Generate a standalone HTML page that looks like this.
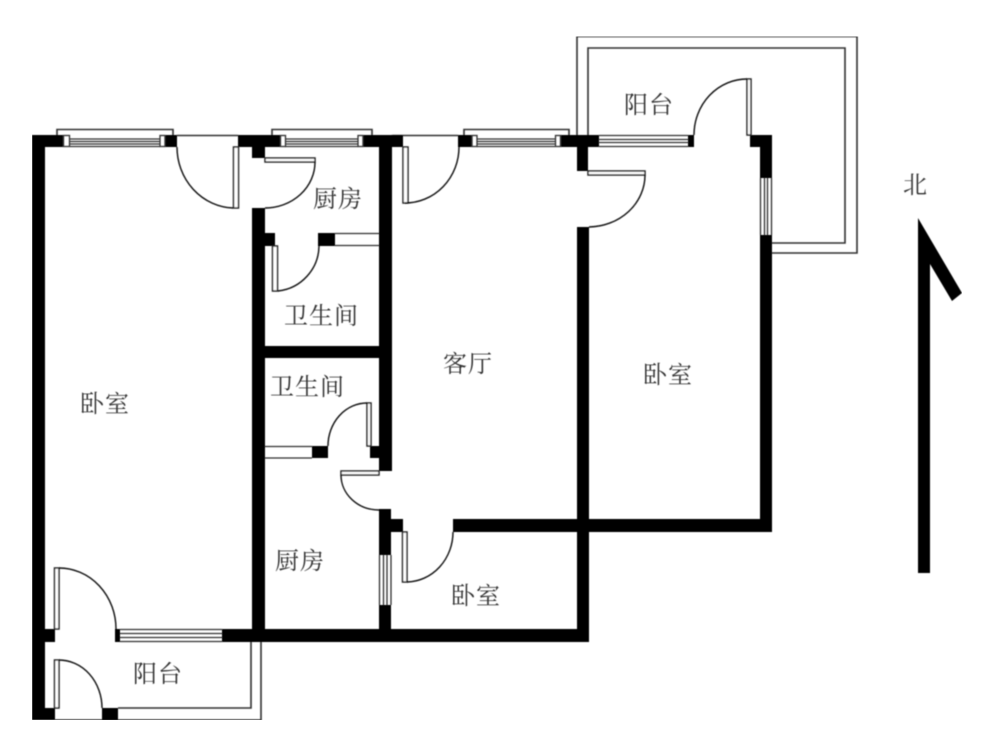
<!DOCTYPE html>
<html lang="zh">
<head>
<meta charset="utf-8">
<style>
html,body{margin:0;padding:0;background:#fff;width:1000px;height:750px;overflow:hidden}
svg{display:block}
text{font-family:"Liberation Serif","Noto Serif CJK SC",serif;font-size:24px;fill:#333;letter-spacing:1px}
</style>
</head>
<body>
<svg width="1000" height="750" viewBox="0 0 1000 750" xmlns="http://www.w3.org/2000/svg">
<defs>
<filter id="soft" x="0" y="0" width="100%" height="100%"><feGaussianBlur stdDeviation="0.45"/></filter>
</defs>
<rect width="1000" height="750" fill="#fff"/>
<g filter="url(#soft)">

<!-- balcony outlines -->
<g fill="none" stroke="#333" stroke-width="1.6">
<path d="M577 135V36.500H857V253H772"/>
<path d="M588 135V48H845V243H772"/>
<path d="M261 642V720H55"/>
<path d="M251 642V708H118"/>
<!-- window top boxes -->
<path d="M57 135V129.500H173V135"/>
<path d="M272 135V129.500H372V135"/>
<path d="M464 135V129.500H569V135"/>
<!-- door lintel lines -->
<path d="M177 135.500H238"/>
<path d="M392 135.500H458"/>
</g>

<!-- black walls -->
<g fill="#000">
<rect x="32" y="135" width="13" height="585"/>
<rect x="32" y="135" width="31" height="12"/>
<rect x="165" y="135" width="12" height="12"/>
<rect x="238" y="135" width="42" height="12"/>
<rect x="252" y="135" width="13" height="23"/>
<rect x="252" y="208" width="13" height="434"/>
<rect x="363" y="135" width="29" height="12"/>
<rect x="379" y="135" width="13" height="336"/>
<rect x="392" y="135" width="11" height="12"/>
<rect x="458" y="135" width="14" height="12"/>
<rect x="561" y="135" width="38" height="12"/>
<rect x="577" y="135" width="11" height="36"/>
<rect x="577" y="227" width="12" height="415"/>
<rect x="688" y="135" width="6" height="12"/>
<rect x="750" y="135" width="22" height="12"/>
<rect x="760" y="135" width="12" height="43"/>
<rect x="760" y="235" width="12" height="297"/>
<rect x="453" y="519" width="319" height="13"/>
<rect x="379" y="509" width="12" height="46"/>
<rect x="379" y="519" width="24" height="13"/>
<rect x="379" y="605" width="12" height="37"/>
<rect x="222" y="629" width="367" height="13"/>
<rect x="252" y="346" width="140" height="12"/>
<rect x="265" y="233" width="10" height="13"/>
<rect x="318" y="233" width="17" height="13"/>
<rect x="312" y="446" width="16" height="12"/>
<rect x="370" y="446" width="10" height="12"/>
<rect x="45" y="629" width="10" height="13"/>
<rect x="115" y="629" width="5" height="13"/>
<rect x="32" y="708" width="23" height="12"/>
<rect x="102" y="708" width="16" height="12"/>
</g>

<!-- windows -->
<g fill="none" stroke="#333" stroke-width="1.3">
<rect x="63.500" y="135.500" width="6" height="11"/>
<rect x="160" y="135.500" width="5" height="11"/>
<path d="M70 139H160M70 141.500H160M70 144H160M70 146.500H160"/>
<rect x="280.500" y="135.500" width="5" height="11"/>
<rect x="358" y="135.500" width="5" height="11"/>
<path d="M285 139H358M285 141.500H358M285 144H358M285 146.500H358"/>
<rect x="472" y="135.500" width="5" height="11"/>
<rect x="555.500" y="135.500" width="5" height="11"/>
<path d="M477 139H555M477 141.500H555M477 144H555M477 146.500H555"/>
<path d="M599 135.500H688M599 139.500H688M599 142.500H688M599 146.500H688"/>
<path d="M760.500 178V235M764.500 178V235M767.500 178V235M771.500 178V235"/>
<path d="M379.500 555V605M383.500 555V605M387 555V605M391 555V605"/>
<path d="M120 629.500H222M120 633.500H222M120 637.500H222M120 641.500H222"/>
<path d="M335 233.500H379M335 245.500H379"/>
<path d="M265 446.500H312M265 458H312"/>
</g>

<!-- door leaves -->
<g fill="#fff" stroke="#222" stroke-width="1.5">
<rect x="233.500" y="147" width="5" height="61"/>
<rect x="265" y="158" width="50" height="4"/>
<rect x="272.500" y="246" width="5" height="45"/>
<rect x="403" y="147" width="5" height="56"/>
<rect x="588" y="171" width="57" height="4"/>
<rect x="747" y="79" width="4" height="56"/>
<rect x="367" y="403" width="4" height="43"/>
<rect x="341" y="471" width="38" height="4"/>
<rect x="402.500" y="532" width="4.500" height="50"/>
<rect x="54.500" y="568" width="4.500" height="61"/>
<rect x="54.500" y="660" width="4.500" height="48"/>
</g>

<!-- door arcs -->
<g fill="none" stroke="#111" stroke-width="1.4">
<path d="M177 147A58 61 0 0 0 233 208"/>
<path d="M315 162A50 46 0 0 1 265 208"/>
<path d="M319 246A46 46 0 0 1 278 291"/>
<path d="M459 147A54 56 0 0 1 405 203"/>
<path d="M645 175A57 52 0 0 1 589 227"/>
<path d="M694 135A53 56 0 0 1 747 79"/>
<path d="M328 446A39 43 0 0 1 367 403"/>
<path d="M341 475A38 35 0 0 0 379 510"/>
<path d="M453 532A47 50 0 0 1 407 582"/>
<path d="M59 568A57 61 0 0 1 116 629"/>
<path d="M59 660A43 48 0 0 1 102 708"/>
</g>

<!-- north arrow -->
<polygon points="918,218 962,293 952,301 930,264 930,573 918,573" fill="#000"/>

<!-- labels -->
<text x="80" y="412">卧室</text>
<text x="313" y="207">厨房</text>
<text x="284" y="324">卫生间</text>
<text x="443" y="372">客厅</text>
<text x="643" y="383">卧室</text>
<text x="270" y="395">卫生间</text>
<text x="275" y="569">厨房</text>
<text x="451" y="604">卧室</text>
<text x="133" y="682">阳台</text>
<text x="624" y="113">阳台</text>
<text x="903" y="193">北</text>
</g>
</svg>
</body>
</html>
